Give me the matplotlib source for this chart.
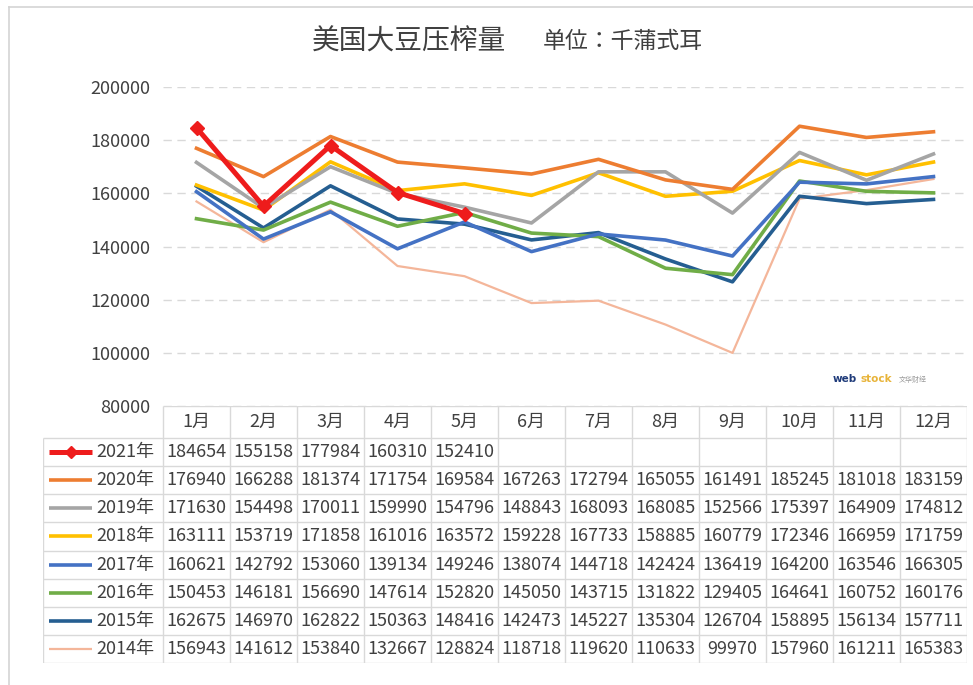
import matplotlib
matplotlib.use("Agg")
import matplotlib.pyplot as plt
from matplotlib.lines import Line2D

plt.rcParams["font.family"] = ["Noto Sans CJK SC", "DejaVu Sans"]

# ── data (千蒲式耳) ─────────────────────────────────────────────
MONTHS = ["1月", "2月", "3月", "4月", "5月", "6月",
          "7月", "8月", "9月", "10月", "11月", "12月"]
YEARS = ["2021年", "2020年", "2019年", "2018年",
         "2017年", "2016年", "2015年", "2014年"]

V2021 = [184654, 155158, 177984, 160310, 152410]
V2020 = [176940, 166288, 181374, 171754, 169584, 167263,
         172794, 165055, 161491, 185245, 181018, 183159]
V2019 = [171630, 154498, 170011, 159990, 154796, 148843,
         168093, 168085, 152566, 175397, 164909, 174812]
V2018 = [163111, 153719, 171858, 161016, 163572, 159228,
         167733, 158885, 160779, 172346, 166959, 171759]
V2017 = [160621, 142792, 153060, 139134, 149246, 138074,
         144718, 142424, 136419, 164200, 163546, 166305]
V2016 = [150453, 146181, 156690, 147614, 152820, 145050,
         143715, 131822, 129405, 164641, 160752, 160176]
V2015 = [162675, 146970, 162822, 150363, 148416, 142473,
         145227, 135304, 126704, 158895, 156134, 157711]
V2014 = [156943, 141612, 153840, 132667, 128824, 118718,
         119620, 110633, 99970, 157960, 161211, 165383]

SERIES = [V2021, V2020, V2019, V2018, V2017, V2016, V2015, V2014]

# styles
COLORS = ["#ee1c1c", "#ed7d31", "#a5a5a5", "#ffc000",
          "#4472c4", "#70ad47", "#255e91", "#f4b69a"]
WIDTHS = [3.6, 2.6, 2.6, 2.6, 2.6, 2.6, 2.6, 1.6]
TXT = "#404040"
GRID = "#d9d9d9"

W, H = 973, 685


def fx(px):
    return px / W


def fy(py):
    return 1 - py / H


fig = plt.figure(figsize=(W / 100, H / 100), dpi=100)

# outer frame
fig.add_artist(Line2D([fx(9), fx(9)], [fy(7), fy(685)], color="#d4d4d4", lw=1.2))
fig.add_artist(Line2D([fx(9), fx(973)], [fy(7), fy(7)], color="#d4d4d4", lw=1.2))

# title
fig.text(fx(312), fy(42), "美国大豆压榨量", fontsize=20, color=TXT, va="center", ha="left")
fig.text(fx(543), fy(42), "单位：千蒲式耳", fontsize=16.5, color=TXT, va="center", ha="left",
         family=["Noto Sans CJK JP", "DejaVu Sans"])

# ── line chart ───────────────────────────────────────────────
PL, PR, PT, PB = 163, 967, 87, 406
ax = fig.add_axes([fx(PL), fy(PB), fx(PR) - fx(PL), (PB - PT) / H])
ax.set_xlim(-0.5, 11.5)
ax.set_ylim(80000, 200000)
ax.set_yticks(range(80000, 200001, 20000))
ax.tick_params(axis="y", length=0, pad=9, labelsize=13, labelcolor=TXT)
ax.set_xticks([])
for s in ax.spines.values():
    s.set_visible(False)
ax.yaxis.grid(True, color=GRID, linestyle=(0, (6, 4)), linewidth=1)
ax.set_axisbelow(True)

for i in range(len(SERIES) - 1, -1, -1):
    vals = SERIES[i]
    xs = list(range(len(vals)))
    if i == 0:
        ax.plot(xs, vals, color=COLORS[i], lw=WIDTHS[i], marker="D",
                markersize=7, zorder=10, solid_joinstyle="miter")
    else:
        ax.plot(xs, vals, color=COLORS[i], lw=WIDTHS[i], zorder=2 + (8 - i))

# watermark
ax.text(0.833, 0.085, "web", transform=ax.transAxes, fontsize=7.5,
        fontweight="bold", color="#1f3b7a", family="DejaVu Sans", ha="left", va="center")
ax.text(0.867, 0.085, "stock", transform=ax.transAxes, fontsize=7.5,
        fontweight="bold", color="#e8b43a", family="DejaVu Sans", ha="left", va="center")
ax.text(0.915, 0.083, "文华财经", transform=ax.transAxes, fontsize=5,
        color="#9a9a9a", ha="left", va="center")

# ── data table ───────────────────────────────────────────────
TL, TB = 43, 663
HEAD_B = 438
ROW_H = (TB - HEAD_B) / len(YEARS)
CW = (PR - PL) / 12


def u(px):
    return (px - PL) / CW - 0.5


tax = fig.add_axes([fx(TL), fy(TB), fx(PR) - fx(TL), (TB - PB) / H])
tax.set_xlim(u(TL), u(PR))
tax.set_ylim(TB, PB)
tax.axis("off")

lkw = dict(color=GRID, lw=1, solid_capstyle="butt")
tax.plot([-0.5, 11.5], [PB, PB], **lkw)
for r in range(len(YEARS) + 1):
    yy = HEAD_B + r * ROW_H
    tax.plot([u(TL), 11.5], [yy, yy], **lkw)
tax.plot([u(TL), u(TL)], [HEAD_B, TB], **lkw)
for c in range(13):
    tax.plot([c - 0.5, c - 0.5], [PB, TB], **lkw)

for c, m in enumerate(MONTHS):
    tax.text(c, (PB + HEAD_B) / 2, m, ha="center", va="center",
             fontsize=13, color=TXT)

for r, (name, vals) in enumerate(zip(YEARS, SERIES)):
    yc = HEAD_B + (r + 0.5) * ROW_H
    tax.plot([u(49), u(92)], [yc, yc], color=COLORS[r], lw=WIDTHS[r],
             solid_capstyle="butt")
    if r == 0:
        tax.plot([u(70.5)], [yc], marker="D", markersize=6, color=COLORS[r])
    tax.text(u(96), yc, name, ha="left", va="center", fontsize=13, color=TXT)
    for c, v in enumerate(vals):
        tax.text(c, yc, f"{v}", ha="center", va="center", fontsize=13, color=TXT)

fig.savefig("out.png", dpi=100)
